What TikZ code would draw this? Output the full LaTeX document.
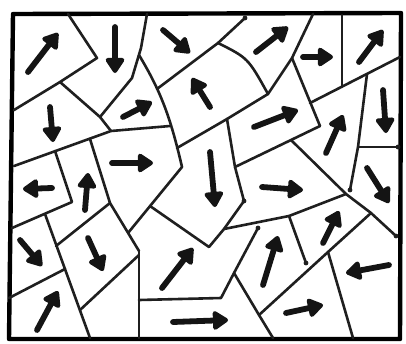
\documentclass[tikz,border=0pt]{standalone}
\usetikzlibrary{arrows.meta}
\begin{document}
\begin{tikzpicture}[x=1pt,y=-1pt,
  wall/.style={line width=2.6pt, draw=black!88, line cap=round, line join=round},
  spin/.style={line width=5.8pt, draw=black!92, line cap=round,
    -{Triangle[length=17pt,width=21pt,round]}},
  pin/.style={fill=black!88}]
\useasboundingbox (0,0) rectangle (406,343);
\fill[white] (0,0) rectangle (406,343);
% frame
\draw[line width=4.4pt, line join=round] (13,14) -- (401,13) -- (400,339) -- (9,339) -- cycle;
% grain boundaries
\draw[wall] (68,14) -- (97,58) -- (60,82) -- (14,110);
\draw[wall] (60,82) -- (100,117) -- (111,131);
\draw[wall] (147,14) -- (141,48) -- (132,78) -- (100,117);
\draw[wall] (14,166) -- (111,131) -- (170,126);
\draw[wall] (139,55) .. controls (160,90) and (170,115) .. (182,167) -- (128,233);
\draw[wall] (157,89) -- (218,43) -- (245,18);
\draw[wall] (218,43) .. controls (248,58) .. (268,94);
\draw[wall] (177,148) -- (227,119) -- (268,94) -- (292,58) -- (313,14);
\draw[wall] (292,58) -- (320,126);
\draw[wall] (342,15) -- (342,87);
\draw[wall] (310,103) -- (400,57);
\draw[wall] (367,74) -- (358,147) -- (350,190);
\draw[wall] (358,147) -- (398,147);
\draw[wall] (227,119) -- (235,167) -- (244,201);
\draw[wall] (235,167) -- (291,140) -- (320,126);
\draw[wall] (291,140) -- (346,194) -- (371,213) -- (396,236);
\draw[wall] (244,201) -- (224,229) -- (209,247) -- (150,206);
\draw[wall] (224,229) -- (289,216) -- (346,194);
\draw[wall] (289,216) -- (306,263);
\draw[wall] (258,228) -- (234,273) -- (221,298) -- (139,300);
\draw[wall] (234,273) -- (259,315) -- (273,338);
\draw[wall] (259,315) -- (328,252) -- (371,213);
\draw[wall] (328,252) -- (353,338);
\draw[wall] (139,251) -- (139,338);
\draw[wall] (90,139) -- (110,203) -- (139,251);
\draw[wall] (110,203) -- (56,246);
\draw[wall] (55,151) -- (72,202) -- (12,228);
\draw[wall] (45,214) -- (90,338);
\draw[wall] (9,298) -- (65,269);
\draw[wall] (80,310) -- (139,255);
% pen dots at free ends
\foreach \p in {(245,18),(350,190),(398,147),(396,236),(306,263),(258,228),(244,201)}
  \fill[pin] \p circle (2.4pt);
% magnetisation arrows
\draw[spin] (28,72) -- (58,33);
\draw[spin] (115,27) -- (115,73);
\draw[spin] (163,30) -- (190,53);
\draw[spin] (50,107) -- (53,142);
\draw[spin] (123,117) -- (152,102);
\draw[spin] (112,163) -- (153,163);
\draw[spin] (210,107) -- (192,78);
\draw[spin] (256,52) -- (288,27);
\draw[spin] (303,57) -- (333,57);
\draw[spin] (359,62) -- (383,30);
\draw[spin] (254,127) -- (298,110);
\draw[spin] (326,153) -- (343,115);
\draw[spin] (383,90) -- (386,133);
\draw[spin] (367,168) -- (389,203);
\draw[spin] (52,188) -- (23,189);
\draw[spin] (85,210) -- (88,173);
\draw[spin] (20,240) -- (42,266);
\draw[spin] (88,238) -- (103,271);
\draw[spin] (37,330) -- (58,291);
\draw[spin] (162,288) -- (193,248);
\draw[spin] (173,322) -- (228,320);
\draw[spin] (210,152) -- (215,207);
\draw[spin] (262,187) -- (303,190);
\draw[spin] (323,243) -- (339,211);
\draw[spin] (263,285) -- (278,236);
\draw[spin] (389,265) -- (346,273);
\draw[spin] (286,313) -- (323,305);
\end{tikzpicture}
\end{document}
